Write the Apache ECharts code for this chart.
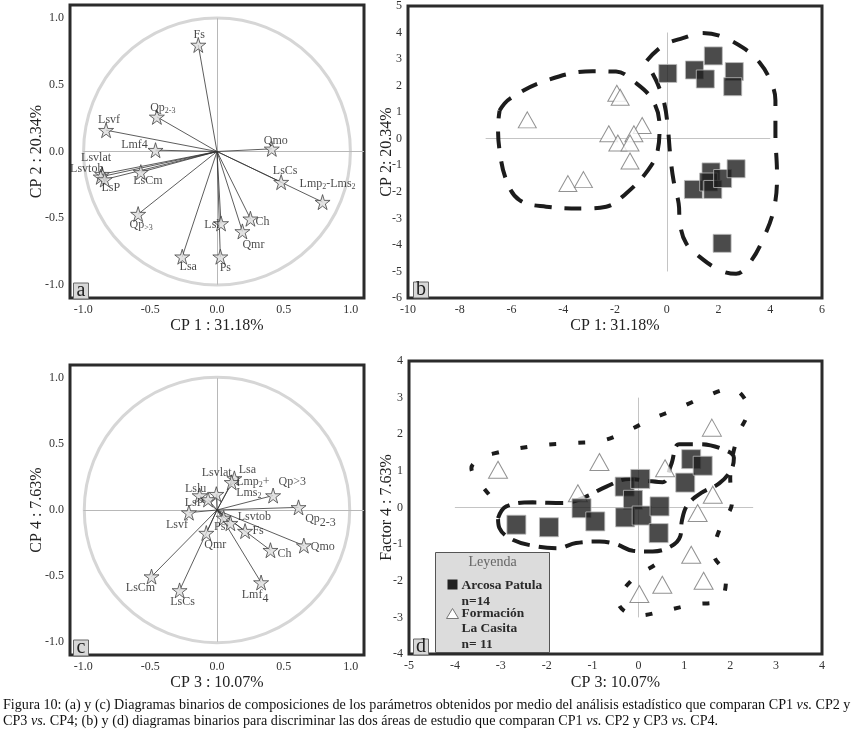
<!DOCTYPE html>
<html><head><meta charset="utf-8">
<script src="https://cdn.jsdelivr.net/npm/echarts@6/dist/echarts.min.js"></script>
<style>html,body{margin:0;padding:0;background:#fff}#c{width:854px;height:733px}</style>
</head><body><div id="c"></div>
<script>
// ---------- Panel a: CP1 vs CP2 (loadings) ----------
const namesA = ['Fs','Qp2-3','Lsvf','Lmf4','Qmo','Lsvlat','Lsvtob','LsP','LsCm','LsCs','Lmp2-Lms2','Qp>3','Lsl','Ch','Qmr','Lsa','Ps'];
const cp1A  = [-0.14,-0.45,-0.83,-0.46,0.41,-0.86,-0.87,-0.84,-0.57,0.48,0.79,-0.59,0.03,0.25,0.19,-0.26,0.025];
const cp2A  = [0.80,0.26,0.16,0.01,0.02,-0.17,-0.19,-0.21,-0.155,-0.23,-0.38,-0.47,-0.54,-0.505,-0.60,-0.79,-0.79];

// ---------- Panel c: CP3 vs CP4 (loadings) ----------
const namesC = ['Lsa','Lsvlat','Qp>3','Lslu','Lsl','LsP','Lsvf','Qp2-3','Ps','Lsvtob','Fs','Qmr','Ch','Qmo','LsCm','LsCs','Lmf4'];
const cp3C  = [0.13,0.11,0.42,-0.13,-0.005,-0.067,-0.21,0.61,0.05,0.10,0.21,-0.08,0.40,0.65,-0.49,-0.28,0.33];
const cp4C  = [0.24,0.21,0.11,0.11,0.12,0.08,-0.02,0.02,-0.06,-0.10,-0.16,-0.175,-0.305,-0.27,-0.505,-0.61,-0.55];

// ---------- Panel b: CP1 vs CP2 (scores) ----------
const sqBx  = [0.04,1.07,1.80,1.49,2.61,2.55,1.03,1.71,1.62,1.78,2.16,2.68,2.14];
const sqBy  = [2.46,2.59,3.12,2.25,2.53,1.96,-1.91,-1.25,-1.63,-1.91,-1.50,-1.13,-3.94];
const triBx = [-5.39,-1.93,-1.80,-0.95,-2.24,-1.27,-1.89,-1.42,-1.42,-3.82,-3.22];
const triBy = [0.71,1.71,1.56,0.50,0.19,0.19,-0.16,-0.16,-0.84,-1.69,-1.54];
const envBLx = [-6.46,-6.07,-4.66,-2.86,-1.96,-1.31,-0.54,-0.28,-0.35,-0.73,-1.57,-2.34,-3.24,-4.66,-5.69,-6.20,-6.46,-6.52,-6.46];
const envBLy = [1.06,1.50,2.19,2.54,2.53,2.19,1.44,0.44,-0.44,-1.19,-2.06,-2.56,-2.63,-2.56,-2.31,-1.56,-0.44,0.44,1.06];
const envBRx = [-0.77,-0.15,0.62,1.39,2.03,2.93,3.58,4.03,4.20,4.20,4.26,4.16,3.71,3.19,2.68,2.03,1.26,0.75,0.51,0.46,0.26,0.13,0.04,-0.09,-0.35,-0.67,-0.77];
const envBRy = [2.94,3.50,3.79,3.98,3.88,3.44,2.88,2.13,1.44,0.19,-1.31,-2.56,-3.81,-4.69,-5.09,-4.94,-4.44,-3.94,-3.19,-2.44,-1.56,-0.56,0.44,1.31,2.06,2.69,2.94];
const crossBx = [-7,4];
const crossBy = [-5,4];

// ---------- Panel d: CP3 vs CP4 (scores) ----------
const sqDx  = [-2.66,-1.95,-1.24,-0.94,-0.30,0.04,-0.12,-0.29,0.07,0.46,0.44,1.02,1.15,1.40];
const sqDy  = [-0.47,-0.54,-0.02,-0.38,0.57,0.78,0.21,-0.27,-0.22,0.03,-0.70,0.68,1.32,1.14];
const triDx = [-3.06,-0.85,-1.32,0.58,1.60,1.62,1.29,1.15,1.42,0.52,0.02];
const triDy = [1.03,1.24,0.39,1.07,2.18,0.35,-0.15,-1.29,-2.00,-2.11,-2.36];
const envDInx = [-3.06,-2.88,-2.30,-1.65,-1.14,-0.70,-0.20,0.17,0.53,0.71,0.89,1.33,1.84,2.08,2.02,1.76,1.36,1.07,0.95,0.91,0.71,0.31,-0.12,-0.49,-0.85,-1.36,-1.76,-2.23,-2.74,-3.03,-3.06];
const envDIny = [-0.29,0.03,0.14,0.12,0.30,0.57,0.78,0.73,0.69,1.16,1.73,1.73,1.59,1.36,1.03,0.66,0.39,0.07,-0.34,-0.79,-1.06,-1.20,-1.18,-1.00,-0.93,-0.97,-1.11,-1.06,-0.88,-0.56,-0.29];
const envDOutx = [-3.26,-3.50,-3.64,-3.43,-3.17,-2.59,-1.97,-1.39,-0.78,-0.21,0.31,0.89,1.44,2.02,2.31,2.37,2.16,2.00,2.04,1.79,1.64,1.91,1.75,1.18,0.57,-0.01,-0.44,-0.12,0.37,0.60];
const envDOuty = [0.36,0.75,1.07,1.35,1.47,1.62,1.72,1.76,1.83,2.11,2.43,2.72,3.02,3.24,2.98,2.62,1.95,0.80,0.16,-0.52,-1.25,-1.88,-2.55,-2.65,-2.82,-2.95,-2.58,-1.95,-1.56,-1.32];
const crossDx = [-4,2.5];
const crossDy = [-3,3];

// ---------- loading-plot helpers ----------
const crossACx = [-1,1.1];
const crossACy = [-1,1];
const tickLoad = [-1,-0.5,0,0.5,1];

// ---------- text / style ----------
const FF = 'Liberation Serif';
const star = 'path://M50,0 L61,35 L98,35 L68,57 L79,91 L50,70 L21,91 L32,57 L2,35 L39,35 Z';
const textA = {'Qp2-3':'Qp{s|2-3}','Lmp2-Lms2':'Lmp{s|2}-Lms{s|2}','Qp>3':'Qp{s|>3}'};
const offA = {'Fs':[1,-10],'Qp2-3':[6,-9],'Lsvf':[3,-10],'Lmf4':[-21,-5],'Qmo':[4,-8],'Lsvlat':[-6,-16],
  'Lsvtob':[-14,-8],'LsP':[6,8],'LsCm':[7,9],'LsCs':[4,-11],'Lmp2-Lms2':[5,-18],'Qp>3':[3,11],
  'Lsl':[-9,1],'Ch':[12,3],'Qmr':[11,13],'Lsa':[6,10],'Ps':[5,11]};
const textC = {'Qp2-3':'Qp{b|2-3}','Lmf4':'Lmf{b|4}','Qp>3':'Lmp{s|2}+   Qp>3\nLms{s|2}','Lsl':''};
const offC = {'Lsa':[13,-9],'Lsvlat':[-15,-9],'Qp>3':[-37,-8],'Lslu':[-4,-7],'Lsl':[0,0],'LsP':[-14,3],
  'Lsvf':[-12,12],'Qp2-3':[22,11],'Ps':[-4,9],'Lsvtob':[24,-6],'Fs':[13,0],'Qmr':[9,12],'Ch':[14,4],
  'Qmo':[19,1],'LsCm':[-11,11],'LsCs':[3,11],'Lmf4':[-6,12]};
const alignC = {'Qp>3':'left'};

const tickLbl = {color:'#333',fontFamily:FF,fontSize:12,margin:6};
const nameStyle = {color:'#222',fontFamily:FF,fontSize:16};
const gridStyle = {show:true,borderColor:'#2b2b2b',borderWidth:3,containLabel:false};

function loadAxis(gi, name, isY, gap){
  return {gridIndex:gi,type:'value',min:-1.1,max:1.1,
    axisLine:{show:false},axisTick:{show:false},splitLine:{show:false},
    axisLabel:Object.assign({customValues:tickLoad,formatter:v=>v.toFixed(1)},tickLbl),
    name:name,nameLocation:'middle',nameGap:gap,nameMoveOverlap:false,nameRotate:isY?90:0,nameTextStyle:nameStyle};
}
function scoreAxis(gi, name, isY, mn, mx, itv, gap){
  return {gridIndex:gi,type:'value',min:mn,max:mx,interval:itv,
    axisLine:{show:false},axisTick:{show:false},splitLine:{show:false},
    axisLabel:Object.assign({showMinLabel:true,showMaxLabel:true},tickLbl),
    name:name,nameLocation:'middle',nameGap:gap,nameMoveOverlap:false,nameRotate:isY?90:0,nameTextStyle:nameStyle};
}
function circleSeries(ax){
  return {type:'custom',xAxisIndex:ax,yAxisIndex:ax,data:[[0,0]],silent:true,z:1,clip:false,
    renderItem:(p,api)=>{const c=api.coord([0,0]);const s=api.size([1,1]);
      return {type:'circle',shape:{cx:c[0],cy:c[1],r:(s[0]+s[1])/2},style:{fill:'none',stroke:'#d6d6d6',lineWidth:3}};}};
}
function crossSeries(ax, xs, ys, color){
  return {type:'lines',coordinateSystem:'cartesian2d',xAxisIndex:ax,yAxisIndex:ax,silent:true,z:2,
    lineStyle:{color:color,width:1,opacity:1},
    data:[{coords:[[xs[0],0],[xs[1],0]]},{coords:[[0,ys[0]],[0,ys[1]]]}]};
}
function rayS(ax, xs, ys){
  return {type:'lines',coordinateSystem:'cartesian2d',xAxisIndex:ax,yAxisIndex:ax,silent:true,z:3,
    lineStyle:{color:'#333',width:0.8,opacity:1},
    data:xs.map((x,i)=>({coords:[[0,0],[x,ys[i]]]}))};
}
function starS(ax, names, xs, ys, texts, offs, aligns){
  aligns = aligns || {};
  return {type:'scatter',xAxisIndex:ax,yAxisIndex:ax,symbol:star,symbolSize:15,z:4,silent:true,
    itemStyle:{color:'#dcdcdc',borderColor:'#444',borderWidth:1},
    label:{show:true,position:'inside',fontFamily:FF,fontSize:12,color:'#1a1a1a',lineHeight:11,
      rich:{s:{fontFamily:FF,fontSize:8,color:'#1a1a1a',padding:[6,0,0,0]},
            b:{fontFamily:FF,fontSize:12,color:'#1a1a1a',padding:[8,0,0,0]}}},
    data:names.map((n,i)=>({name:n,value:[xs[i],ys[i]],
      label:{offset:offs[n]||[0,0],align:aligns[n]||'center',formatter:(texts[n]!==undefined?texts[n]:n)}}))};
}
function envS(ax, xs, ys, dash){
  return {type:'line',xAxisIndex:ax,yAxisIndex:ax,smooth:0.4,symbol:'none',silent:true,z:3,
    lineStyle:{color:'#1c1c1c',width:4,type:dash,cap:'butt'},
    data:xs.map((x,i)=>[x,ys[i]])};
}
function sqS(ax, xs, ys, sz){
  return {type:'scatter',name:'Arcosa Patula',xAxisIndex:ax,yAxisIndex:ax,symbol:'rect',symbolSize:sz,z:5,silent:true,
    itemStyle:{color:'#1e1e1e',borderColor:'#bdbdbd',borderWidth:1},data:xs.map((x,i)=>[x,ys[i]])};
}
function triS(ax, xs, ys, sz){
  return {type:'scatter',name:'Formación La Casita',xAxisIndex:ax,yAxisIndex:ax,symbol:'triangle',symbolSize:sz,z:5,silent:true,
    itemStyle:{color:'#fff',borderColor:'#777',borderWidth:1},data:xs.map((x,i)=>[x,ys[i]])};
}
function letter(x,y,t){
  return {type:'group',left:x,top:y,z:20,children:[
    {type:'rect',shape:{x:0,y:0,width:15,height:16},style:{fill:'#d8d8d8',stroke:'#666',lineWidth:1}},
    {type:'text',x:7.5,y:8,style:{text:t,fontFamily:FF,fontSize:20,fill:'#222',align:'center',verticalAlign:'middle'}}]};
}
function legTxt(y,t){
  return {type:'text',x:26,y:y,scaleX:1.12,style:{text:t,fontFamily:FF,fontSize:12,fontWeight:'bold',fill:'#2a2a2a',verticalAlign:'middle'}};
}

const chart = echarts.init(document.getElementById('c'),null,{renderer:'canvas'});
chart.setOption({
  animation:false,
  backgroundColor:'#fff',
  grid:[
    Object.assign({left:70,top:5,width:294,height:293},gridStyle),
    Object.assign({left:408,top:5,width:414,height:293},gridStyle),
    Object.assign({left:70,top:365,width:294,height:290},gridStyle),
    Object.assign({left:409,top:361,width:413,height:293},gridStyle)
  ],
  xAxis:[
    loadAxis(0,'CP 1 : 31.18%',false,20),
    scoreAxis(1,'CP 1: 31.18%',false,-10,6,2,20),
    loadAxis(2,'CP 3 : 10.07%',false,20),
    scoreAxis(3,'CP 3: 10.07%',false,-5,4,1,21)
  ],
  yAxis:[
    loadAxis(0,'CP 2 : 20.34%',true,25),
    scoreAxis(1,'CP 2: 20.34%',true,-6,5,1,13),
    loadAxis(2,'CP 4 : 7.63%',true,25),
    scoreAxis(3,'Factor 4 : 7.63%',true,-4,4,1,14)
  ],
  series:[
    circleSeries(0), crossSeries(0,crossACx,crossACy,'#b8b8b8'), rayS(0,cp1A,cp2A), starS(0,namesA,cp1A,cp2A,textA,offA),
    circleSeries(2), crossSeries(2,crossACx,crossACy,'#b8b8b8'), rayS(2,cp3C,cp4C), starS(2,namesC,cp3C,cp4C,textC,offC,alignC),
    crossSeries(1,crossBx,crossBy,'#c4c4c4'), envS(1,envBLx,envBLy,[17,13]), envS(1,envBRx,envBRy,[17,15]),
    triS(1,triBx,triBy,[18,16]), sqS(1,sqBx,sqBy,18),
    crossSeries(3,crossDx,crossDy,'#c4c4c4'), envS(3,envDInx,envDIny,[18,9]), envS(3,envDOutx,envDOuty,[7,22]),
    triS(3,triDx,triDy,[19,17]), sqS(3,sqDx,sqDy,19)
  ],
  graphic:[
    letter(73,281,'a'), letter(413,280,'b'), letter(73,638,'c'), letter(413,637,'d'),
    {type:'group',left:435,top:552,z:30,children:[
      {type:'rect',shape:{x:0,y:0,width:114,height:100},style:{fill:'#dcdcdc',stroke:'#555',lineWidth:1}},
      {type:'text',x:57,y:10,style:{text:'Leyenda',fontFamily:FF,fontSize:14,fill:'#666',align:'center',verticalAlign:'middle'}},
      {type:'rect',shape:{x:12,y:27,width:10,height:10},style:{fill:'#222'}},
      legTxt(33,'Arcosa Patula'), legTxt(49,'n=14'),
      {type:'polygon',shape:{points:[[17,56],[23,66],[11,66]]},style:{fill:'#fff',stroke:'#777',lineWidth:1}},
      legTxt(61,'Formación'), legTxt(76,'La Casita'), legTxt(92,'n= 11')
    ]},
    {type:'text',left:3,top:698,z:30,scaleX:1.01,style:{fontFamily:FF,fontSize:14,fill:'#111',
      text:'Figura 10: (a) y (c) Diagramas binarios de composiciones de los parámetros obtenidos por medio del análisis estadístico que comparan CP1 {i|vs.} CP2 y',
      rich:{i:{fontFamily:FF,fontSize:14,fontStyle:'italic',fill:'#111'}}}},
    {type:'text',left:3,top:714,z:30,scaleX:1.01,style:{fontFamily:FF,fontSize:14,fill:'#111',
      text:'CP3 {i|vs.} CP4; (b) y (d) diagramas binarios para discriminar las dos áreas de estudio que comparan CP1 {i|vs.} CP2 y CP3 {i|vs.} CP4.',
      rich:{i:{fontFamily:FF,fontSize:14,fontStyle:'italic',fill:'#111'}}}}
  ]
});
</script></body></html>
